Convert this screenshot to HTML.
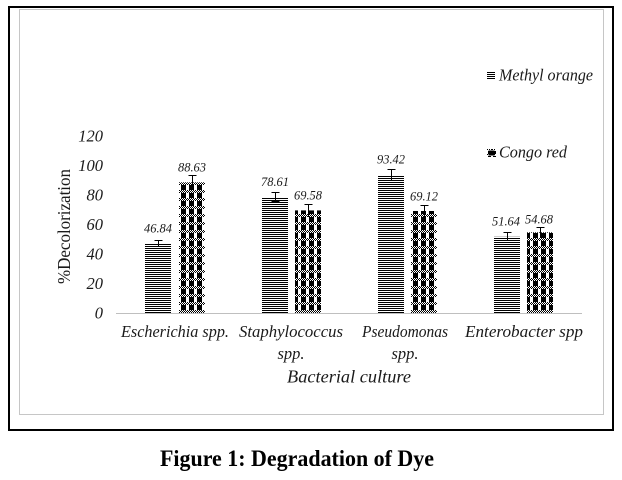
<!DOCTYPE html>
<html>
<head>
<meta charset="utf-8">
<style>
  html, body { margin: 0; padding: 0; background: #fff; }
  body { width: 622px; height: 480px; overflow: hidden; }
  svg { display: block; }
  .it { font-family: "Liberation Serif", "DejaVu Serif", serif; font-style: italic; fill: #1a1a1a; }
  .rg { font-family: "Liberation Serif", "DejaVu Serif", serif; fill: #1a1a1a; }
</style>
</head>
<body>
<svg width="622" height="480" viewBox="0 0 622 480" xmlns="http://www.w3.org/2000/svg">
  <defs>
    <pattern id="mo" x="0" y="0" width="4" height="2" patternUnits="userSpaceOnUse">
      <rect x="0" y="0" width="4" height="1" fill="#000"/>
    </pattern>
    <pattern id="cr" x="179" y="182" width="8" height="8" patternUnits="userSpaceOnUse">
      <rect x="0" y="0" width="8" height="8" fill="#fff"/>
      <rect x="0" y="0" width="1" height="1" fill="#000"/>
      <rect x="2" y="0" width="1" height="1" fill="#000"/>
      <rect x="4" y="0" width="1" height="1" fill="#000"/>
      <rect x="6" y="0" width="1" height="1" fill="#000"/>
      <rect x="1" y="1" width="1" height="1" fill="#000"/>
      <rect x="3" y="1" width="1" height="1" fill="#000"/>
      <rect x="5" y="1" width="1" height="1" fill="#000"/>
      <rect x="7" y="1" width="1" height="1" fill="#000"/>
      <rect x="0" y="2" width="1" height="1" fill="#000"/>
      <rect x="2" y="2" width="1" height="1" fill="#000"/>
      <rect x="4" y="2" width="1" height="1" fill="#000"/>
      <rect x="6" y="2" width="1" height="1" fill="#000"/>
      <rect x="2" y="3" width="5" height="5" fill="#000"/>
    </pattern>
    <pattern id="crs" x="487" y="149" width="5" height="5" patternUnits="userSpaceOnUse">
      <rect x="0" y="0" width="5" height="5" fill="#fff"/>
      <rect x="0" y="0" width="1" height="1" fill="#000"/>
      <rect x="2" y="0" width="1" height="1" fill="#000"/>
      <rect x="4" y="0" width="1" height="1" fill="#000"/>
      <rect x="1" y="2" width="3" height="3" fill="#000"/>
    </pattern>
  </defs>

  <rect x="0" y="0" width="622" height="480" fill="#fff"/>

  <!-- outer black frame -->
  <rect x="9" y="7" width="604" height="423" fill="none" stroke="#000" stroke-width="2"/>
  <!-- inner chart area border -->
  <rect x="19.5" y="9.5" width="584" height="405" fill="none" stroke="#c6c6c6" stroke-width="1"/>

  <!-- y axis tick labels -->
  <g class="it" font-size="16.5" text-anchor="end">
    <text x="103" y="318.5">0</text>
    <text x="103" y="289">20</text>
    <text x="103" y="259.5">40</text>
    <text x="103" y="230">60</text>
    <text x="103" y="200.5">80</text>
    <text x="103" y="171">100</text>
    <text x="103" y="141.5">120</text>
  </g>

  <!-- y axis title -->
  <text class="rg" font-size="18" text-anchor="middle" transform="translate(70,226.5) rotate(-90)" textLength="115" lengthAdjust="spacingAndGlyphs">%Decolorization</text>

  <!-- bars -->
  <rect x="145" y="243.9" width="26" height="69.1" fill="url(#mo)"/>
  <rect x="179" y="182.3" width="26" height="130.7" fill="url(#cr)"/>

  <rect x="262" y="197.1" width="26" height="115.9" fill="url(#mo)"/>
  <rect x="295" y="210.4" width="26" height="102.6" fill="url(#cr)"/>

  <rect x="378" y="175.2" width="26" height="137.8" fill="url(#mo)"/>
  <rect x="411" y="211.0" width="26" height="102.0" fill="url(#cr)"/>

  <rect x="494" y="236.8" width="26" height="76.2" fill="url(#mo)"/>
  <rect x="527" y="232.3" width="26" height="80.7" fill="url(#cr)"/>

  <!-- baseline -->
  <line x1="116" y1="313.5" x2="582" y2="313.5" stroke="#bfbfbf" stroke-width="1"/>

  <!-- error bars -->
  <g stroke="#000" stroke-width="1" fill="none">
    <path d="M158.5 240 V247 M154.5 240.5 H162.5 M154.5 246.5 H162.5"/>
    <path d="M192.5 175 V189 M188.5 175.5 H196.5"/>
    <path d="M275.5 192 V202 M271.5 192.5 H279.5 M271.5 201.5 H279.5"/>
    <path d="M308.5 204 V217 M304.5 204.5 H312.5"/>
    <path d="M391.5 169 V181 M387.5 169.5 H395.5 M387.5 180.5 H395.5"/>
    <path d="M424.5 205 V217 M420.5 205.5 H428.5"/>
    <path d="M507.5 232 V241 M503.5 232.5 H511.5 M503.5 240.5 H511.5"/>
    <path d="M540.5 227 V238 M536.5 227.5 H544.5"/>
  </g>

  <!-- data labels -->
  <g class="it" font-size="13" text-anchor="middle">
    <text x="158" y="232.5" textLength="28" lengthAdjust="spacingAndGlyphs">46.84</text>
    <text x="192" y="171.5" textLength="28" lengthAdjust="spacingAndGlyphs">88.63</text>
    <text x="275" y="186" textLength="28" lengthAdjust="spacingAndGlyphs">78.61</text>
    <text x="308" y="199.5" textLength="28" lengthAdjust="spacingAndGlyphs">69.58</text>
    <text x="391" y="163.5" textLength="28" lengthAdjust="spacingAndGlyphs">93.42</text>
    <text x="424" y="200.5" textLength="28" lengthAdjust="spacingAndGlyphs">69.12</text>
    <text x="506" y="225.5" textLength="28" lengthAdjust="spacingAndGlyphs">51.64</text>
    <text x="539" y="223.5" textLength="28" lengthAdjust="spacingAndGlyphs">54.68</text>
  </g>

  <!-- category labels -->
  <g class="it" font-size="17" text-anchor="middle">
    <text x="175" y="337" textLength="108" lengthAdjust="spacingAndGlyphs">Escherichia spp.</text>
    <text x="291" y="337" textLength="104" lengthAdjust="spacingAndGlyphs">Staphylococcus</text>
    <text x="291" y="359" textLength="27" lengthAdjust="spacingAndGlyphs">spp.</text>
    <text x="405" y="337" textLength="86" lengthAdjust="spacingAndGlyphs">Pseudomonas</text>
    <text x="405" y="359" textLength="27" lengthAdjust="spacingAndGlyphs">spp.</text>
    <text x="524" y="337" textLength="118" lengthAdjust="spacingAndGlyphs">Enterobacter spp</text>
  </g>

  <!-- x axis title -->
  <text class="it" font-size="17.5" x="349" y="382.5" text-anchor="middle" textLength="124" lengthAdjust="spacingAndGlyphs">Bacterial culture</text>

  <!-- legend -->
  <rect x="487" y="72" width="8" height="7" fill="url(#mo)"/>
  <text class="it" font-size="17" x="499" y="80.5" textLength="94" lengthAdjust="spacingAndGlyphs">Methyl orange</text>
  <rect x="487" y="149" width="9" height="8" fill="url(#crs)"/>
  <rect x="488.5" y="150.5" width="6" height="5" fill="#000"/>
  <text class="it" font-size="17" x="499" y="157.5" textLength="68" lengthAdjust="spacingAndGlyphs">Congo red</text>

  <!-- figure caption -->
  <text x="160" y="466" font-family="'Liberation Serif', 'DejaVu Serif', serif" font-weight="bold" font-size="23" fill="#000" textLength="274" lengthAdjust="spacingAndGlyphs">Figure 1: Degradation of Dye</text>
</svg>
</body>
</html>
